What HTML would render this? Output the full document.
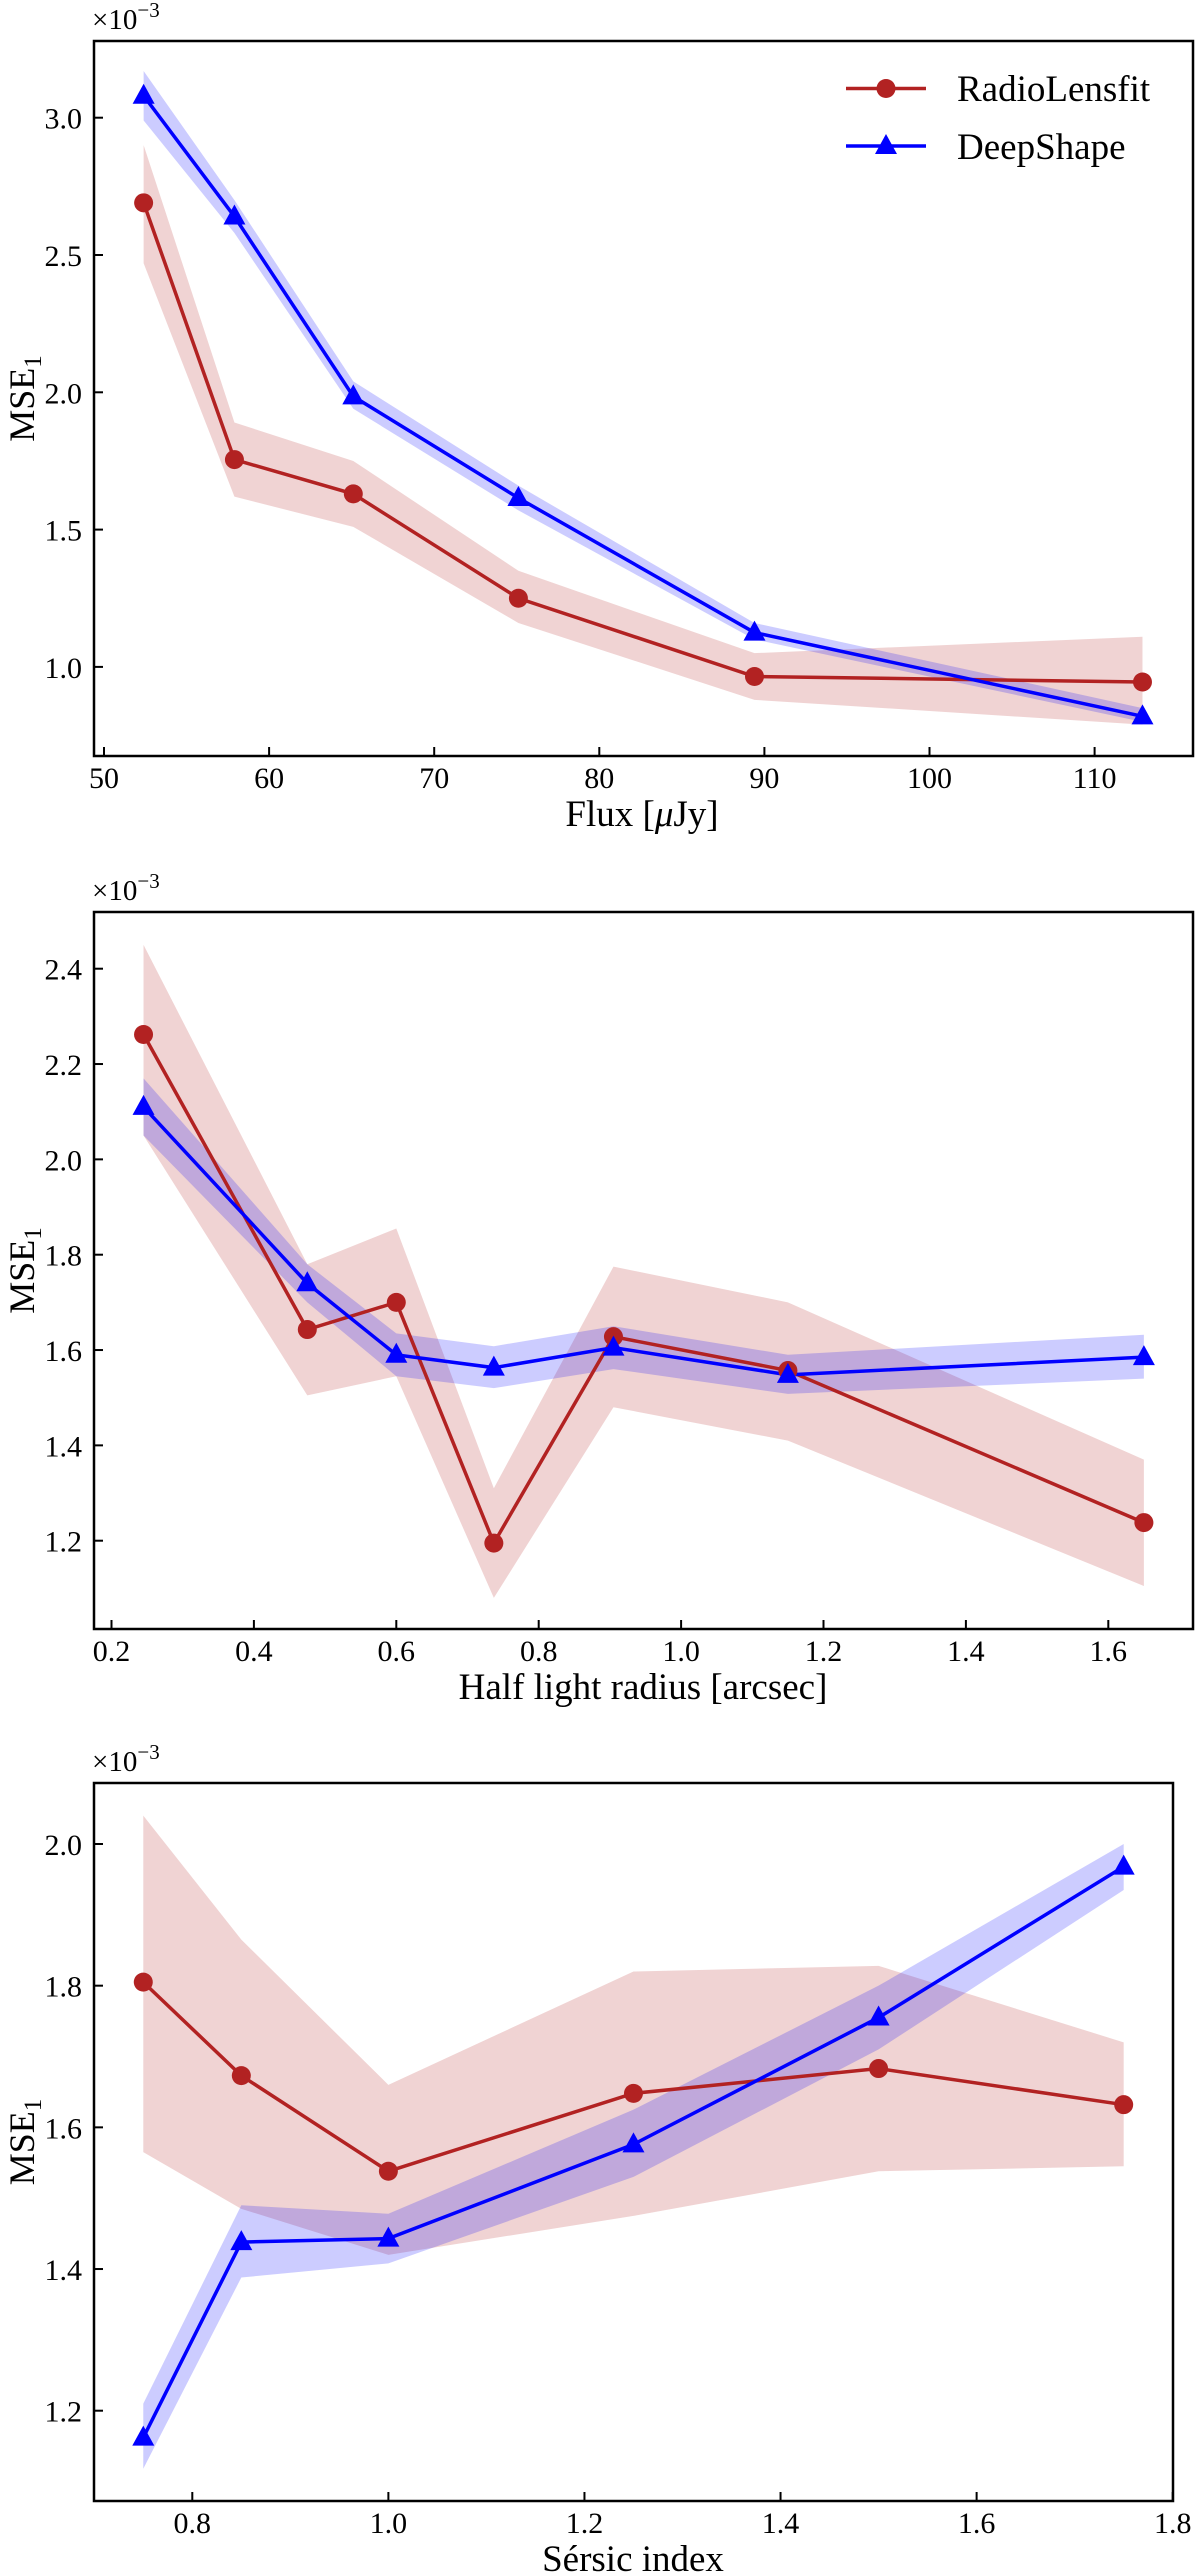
<!DOCTYPE html>
<html><head><meta charset="utf-8"><style>
body{margin:0;background:#fff}
svg{display:block}
text{font-family:"Liberation Serif",serif;fill:#000}
</style></head><body>
<svg id="fig" width="1200" height="2574" viewBox="0 0 1200 2574"></svg>
<script>
// Panel 1: Flux
const fluxX=[52.4,57.9,65.1,75.1,89.4,112.9];
const fluxRL=[2.69,1.755,1.63,1.25,0.965,0.945];
const fluxRLlo=[2.47,1.62,1.51,1.16,0.88,0.79];
const fluxRLhi=[2.90,1.89,1.75,1.35,1.05,1.11];
const fluxDS=[3.08,2.64,1.985,1.615,1.125,0.82];
const fluxDSlo=[2.99,2.58,1.94,1.57,1.10,0.80];
const fluxDShi=[3.17,2.70,2.04,1.66,1.16,0.85];
const fluxXTicks=[50,60,70,80,90,100,110];
const fluxYTicks=[1.0,1.5,2.0,2.5,3.0];
// Panel 2: half light radius
const hlrX=[0.245,0.475,0.6,0.737,0.905,1.15,1.65];
const hlrRL=[2.262,1.643,1.70,1.195,1.628,1.557,1.238];
const hlrRLlo=[2.05,1.505,1.545,1.08,1.48,1.41,1.105];
const hlrRLhi=[2.45,1.78,1.855,1.31,1.775,1.70,1.37];
const hlrDS=[2.11,1.74,1.59,1.563,1.605,1.548,1.585];
const hlrDSlo=[2.05,1.70,1.545,1.52,1.56,1.508,1.54];
const hlrDShi=[2.17,1.78,1.635,1.608,1.65,1.59,1.632];
const hlrXTicks=[0.2,0.4,0.6,0.8,1.0,1.2,1.4,1.6];
const hlrYTicks=[1.2,1.4,1.6,1.8,2.0,2.2,2.4];
// Panel 3: Sersic index
const serX=[0.75,0.85,1.0,1.25,1.5,1.75];
const serRL=[1.805,1.673,1.538,1.648,1.683,1.632];
const serRLlo=[1.565,1.485,1.42,1.475,1.538,1.545];
const serRLhi=[2.04,1.865,1.66,1.82,1.828,1.72];
const serDS=[1.162,1.438,1.443,1.576,1.755,1.968];
const serDSlo=[1.118,1.388,1.408,1.53,1.71,1.935];
const serDShi=[1.21,1.49,1.478,1.625,1.80,2.00];
const serXTicks=[0.8,1.0,1.2,1.4,1.6,1.8];
const serYTicks=[1.2,1.4,1.6,1.8,2.0];

const NS='http://www.w3.org/2000/svg';
const svg=document.getElementById('fig');
function mk(tag,attrs,parent){const e=document.createElementNS(NS,tag);for(const k in attrs)e.setAttribute(k,attrs[k]);(parent||svg).appendChild(e);return e;}
function lin(d0,d1,p0,p1){return v=>p0+(v-d0)/(d1-d0)*(p1-p0);}

function panel(cfg){
  const g=mk('g',{});
  
  
  const {L,R,T,B,sx,sy}=cfg;
  const band=(xs,lo,hi,fill,name)=>{
    let pts=xs.map((x,i)=>sx(x)+','+sy(hi[i]));
    pts=pts.concat(xs.map((x,i)=>sx(x)+','+sy(lo[i])).reverse());
    const p=mk('polygon',{points:pts.join(' '),fill:fill,'fill-opacity':0.2},g);
    
    
  };
  band(cfg.x,cfg.rlLo,cfg.rlHi,'#b22222','radiolensfit-band');
  band(cfg.x,cfg.dsLo,cfg.dsHi,'#0000ff','deepshape-band');
  const l1=mk('polyline',{points:cfg.x.map((x,i)=>sx(x)+','+sy(cfg.rl[i])).join(' '),fill:'none',stroke:'#b22222','stroke-width':3.5},g);
  
  
  const l2=mk('polyline',{points:cfg.x.map((x,i)=>sx(x)+','+sy(cfg.ds[i])).join(' '),fill:'none',stroke:'#0000ff','stroke-width':3.5},g);
  
  
  cfg.x.forEach((x,i)=>{
    const c=mk('circle',{cx:sx(x),cy:sy(cfg.rl[i]),r:9.5,fill:'#b22222'},g);
    
    
  });
  cfg.x.forEach((x,i)=>{
    const cx=sx(x),cy=sy(cfg.ds[i]);
    const t=mk('polygon',{points:`${cx},${cy-12} ${cx-11},${cy+8} ${cx+11},${cy+8}`,fill:'#0000ff'},g);
    
    
  });
  const fr=mk('rect',{x:L,y:T,width:R-L,height:B-T,fill:'none',stroke:'#000','stroke-width':2.5},g);
  
  
  cfg.xTicks.forEach(v=>{
    const x=sx(v);
    mk('line',{x1:x,x2:x,y1:B,y2:B-9,stroke:'#000','stroke-width':2},g);
    const t=mk('text',{x:x,y:B+32,'font-size':30,'text-anchor':'middle'},g);
    t.textContent=cfg.xFmt(v);
    
    
  });
  cfg.yTicks.forEach(v=>{
    const y=sy(v);
    mk('line',{x1:L,x2:L+9,y1:y,y2:y,stroke:'#000','stroke-width':2},g);
    const t=mk('text',{x:L-12,y:y+11,'font-size':30,'text-anchor':'end'},g);
    t.textContent=v.toFixed(1);
    
    
  });
  const m=mk('text',{x:L-2,y:T-12,'font-size':29},g);
  m.innerHTML='×10<tspan dy="-12" font-size="21">−3</tspan>';
  
  
  const xl=mk('text',{x:cfg.xlX,y:B+70,'font-size':37,'text-anchor':'middle'},g);
  xl.innerHTML=cfg.xlabel;
  
  
  const yc=(T+B)/2;
  const yl=mk('text',{x:34,y:yc,'font-size':36,'text-anchor':'middle','transform':`rotate(-90 34 ${yc})`},g);
  yl.innerHTML='MSE<tspan dy="7" font-size="25">1</tspan>';
  
  
  return g;
}

panel({name:'flux-panel',L:94,R:1193,T:41,B:756,sx:lin(50,110,104,1094.6),sy:lin(3.0,1.0,117.7,666.9),
  x:fluxX,rl:fluxRL,rlLo:fluxRLlo,rlHi:fluxRLhi,ds:fluxDS,dsLo:fluxDSlo,dsHi:fluxDShi,
  xTicks:fluxXTicks,yTicks:fluxYTicks,xFmt:v=>String(v),xlabel:'Flux [<tspan font-style="italic">μ</tspan>Jy]',xlX:642});
panel({name:'half-light-radius-panel',L:94,R:1193,T:912,B:1629,sx:lin(0.2,1.6,111.5,1108.3),sy:lin(2.4,1.2,968.7,1540.7),
  x:hlrX,rl:hlrRL,rlLo:hlrRLlo,rlHi:hlrRLhi,ds:hlrDS,dsLo:hlrDSlo,dsHi:hlrDShi,
  xTicks:hlrXTicks,yTicks:hlrYTicks,xFmt:v=>v.toFixed(1),xlabel:'Half light radius [arcsec]',xlX:643});
panel({name:'sersic-index-panel',L:94,R:1173,T:1783,B:2501,sx:lin(0.8,1.8,192.3,1172.7),sy:lin(2.0,1.2,1844,2410.7),
  x:serX,rl:serRL,rlLo:serRLlo,rlHi:serRLhi,ds:serDS,dsLo:serDSlo,dsHi:serDShi,
  xTicks:serXTicks,yTicks:serYTicks,xFmt:v=>v.toFixed(1),xlabel:'Sérsic index',xlX:633});

// Legend
const lg=mk('g',{});


mk('line',{x1:846,x2:926,y1:88.5,y2:88.5,stroke:'#b22222','stroke-width':3.5},lg);
mk('circle',{cx:886,cy:88.5,r:9.5,fill:'#b22222'},lg);
const t1=mk('text',{x:957,y:101,'font-size':37},lg);t1.textContent='RadioLensfit';


mk('line',{x1:846,x2:926,y1:146,y2:146,stroke:'#0000ff','stroke-width':3.5},lg);
mk('polygon',{points:'886,134 875,154 897,154',fill:'#0000ff'},lg);
const t2=mk('text',{x:957,y:159,'font-size':37},lg);t2.textContent='DeepShape';


</script>
</body></html>
